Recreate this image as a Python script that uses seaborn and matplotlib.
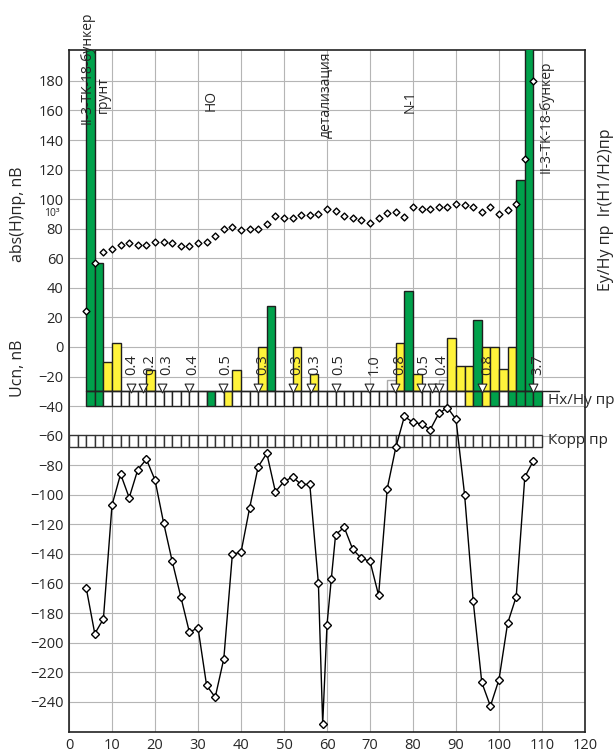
import numpy as np
import pandas as pd
import seaborn as sns
import matplotlib.pyplot as plt

# ---- data ----
# upper series: abs(H)пр (diamonds, no line)
abs_x = [4, 6, 8, 10, 12, 14, 16, 18, 20, 22, 24, 26, 28, 30, 32, 34, 36, 38, 40, 42,
         44, 46, 48, 50, 52, 54, 56, 58, 60, 62, 64, 66, 68, 70, 72, 74, 76, 78, 80, 82,
         84, 86, 88, 90, 92, 94, 96, 98, 100, 102, 104, 106, 108]
abs_h = [24, 57, 64, 66, 69, 70, 69, 69, 71, 71, 70, 68.5, 68.5, 70, 71, 75, 80, 81, 79, 80,
         80, 83, 88.5, 87, 87, 89.5, 89.5, 90, 93.5, 92, 88.5, 87, 86, 84, 87, 90.5, 91, 88, 94.5, 93,
         93.5, 94.5, 95, 97, 96, 95, 91.5, 94.5, 90, 92.5, 96.5, 127, 180]

# lower series: Ucn
ucn_x = [4, 6, 8, 10, 12, 14, 16, 18, 20, 22, 24, 26, 28, 30, 32, 34, 36, 38, 40, 42,
         44, 46, 48, 50, 52, 54, 56, 58, 59, 60, 61, 62, 64, 66, 68, 70, 72, 74, 76, 78,
         80, 82, 84, 86, 88, 90, 92, 94, 96, 98, 100, 102, 104, 106, 108]
ucn = [-163, -194, -184, -107, -86, -102, -83, -76, -90, -119, -145, -169, -193, -190, -229, -237, -211, -140, -139, -109,
       -81, -72, -98, -91, -88, -93, -93, -160, -255, -188, -157, -127, -122, -137, -143, -145, -168, -96, -68, -47,
       -51, -52, -56, -45, -41, -49, -100, -172, -227, -243, -225, -187, -169, -88, -77]

# bars above the Hx/Hy strip (left edge, top value, kind)
bar_left = [4, 6, 8, 10, 18, 38, 44, 46, 52, 56, 74, 76, 78, 80, 86, 88, 90, 92, 94, 96, 98, 100, 102, 104, 106]
bar_top = [260, 57, -10, 3, -15.5, -15.5, 0, 28, 0, -18, -22.5, 3, 38, -18.5, -22.5, 6, -13, -13, 18, 0, 0, -15, 0, 113, 260]
bar_kind = ['g', 'g', 'y', 'y', 'y', 'y', 'y', 'g', 'y', 'y', 'w', 'y', 'g', 'y', 'w', 'y', 'y', 'y', 'g', 'y', 'y', 'y', 'y', 'g', 'g']

# Hx/Hy strip cells
hx_left = list(range(4, 110, 2))
hx_kind = ['w'] * len(hx_left)
for i, k in zip([0, 1, 14, 16, 44, 45, 46, 47, 49, 50, 51, 52], ['g', 'g', 'g', 'y', 'y', 'g', 'y', 'g', 'g', 'g', 'g', 'g']):
    hx_kind[i] = k

# Korr strip cells
korr_left = list(range(0, 110, 2))

# triangles with labels
tri_x = [14.4, 17.3, 21.7, 27.9, 35.7, 43.9, 52, 56.2, 62, 69.8, 75.8, 81.8, 84.5, 86, 96, 108]
lbl_x = [14.6, 18.8, 22.7, 28.8, 36.4, 45, 53, 57.2, 62.8, 71, 77, 82.6, 86.7, 97.3, 109]
lbl_txt = ['0.4', '0.2', '0.3', '0.4', '0.5', '0.3', '0.3', '0.3', '0.5', '1.0', '0.8', '0.5', '0.4', '0.8', '3.7']

# notes at the top
note_x = [4.2, 7.9, 33, 59.8, 79.3, 111]
note_y = [227, 183, 174, 200, 174, 194]
note_txt = ['II-3-TK-18-бункер', 'грунт', 'НО', 'детализация', 'N-1', 'II-3-TK-18-бункер']

colors = {'g': '#00a14b', 'y': '#fff33b', 'w': 'white'}

sns.set_style("whitegrid", {'grid.color': '#b5b5b5', 'axes.edgecolor': '#222222'})
plt.rcParams['font.family'] = ['Open Sans', 'DejaVu Sans']

fig, ax = plt.subplots(figsize=(6.16, 7.55), dpi=100)
fig.subplots_adjust(left=69 / 616, right=585 / 616, top=1 - 50 / 755, bottom=1 - 732 / 755)

# bars
ax.bar(bar_left, np.array(bar_top) + 30, bottom=-30, width=2, align='edge',
       color=[colors[k] for k in bar_kind],
       edgecolor=['#aaaaaa' if k == 'w' else '#1e1e1e' for k in bar_kind], linewidth=1, zorder=3)

# strips
ax.bar(hx_left, 10, bottom=-40, width=2, align='edge', color=[colors[k] for k in hx_kind],
       edgecolor='#222222', linewidth=1, zorder=3)
ax.plot([4, 114], [-30, -30], color='#222222', lw=1, zorder=4)
ax.bar(korr_left, 8.5, bottom=-68, width=2, align='edge', color='white',
       edgecolor='#333333', linewidth=1, zorder=3)
ax.text(111.4, -36, 'Hx/Hy пр', fontsize=11, va='center', ha='left', clip_on=False)
ax.text(111.4, -63.5, 'Корр пр', fontsize=11, va='center', ha='left', clip_on=False)

# triangles
sns.scatterplot(x=tri_x, y=[-27.5] * len(tri_x), marker='v', s=40, color='white',
                edgecolor='#222222', linewidth=0.8, ax=ax, zorder=5)
for x, t in zip(lbl_x, lbl_txt):
    ax.text(x, -19, t, rotation=90, fontsize=10.5, ha='center', va='bottom', zorder=5)

# upper series
sns.scatterplot(x=abs_x, y=abs_h, marker='D', s=12, color='white', edgecolor='black',
                linewidth=1, ax=ax, zorder=6)

# lower series
df = pd.DataFrame({'x': ucn_x, 'u': ucn})
sns.lineplot(data=df, x='x', y='u', color='black', lw=1, marker='D', markersize=4,
             markerfacecolor='white', markeredgecolor='black', markeredgewidth=1,
             sort=False, ax=ax, zorder=6)

# notes
for x, y, t in zip(note_x, note_y, note_txt):
    ax.text(x, y, t, rotation=90, fontsize=10, ha='center', va='top', clip_on=False, zorder=7)

ax.set_xlim(0, 120)
ax.set_ylim(-260.5, 200.9)
ax.set_xticks(range(0, 121, 10))
ax.set_yticks(range(-240, 181, 20))
ax.tick_params(labelsize=10.5, length=0, pad=4)
ax.set_xlabel('')
ax.set_ylabel('')
for s in ax.spines.values():
    s.set_linewidth(1.2)
    s.set_color('#222222')

fig.text(18 / 616, 1 - 214 / 755, 'abs(H)пр, nB', rotation=90, fontsize=11.5, ha='center', va='center')
fig.text(18 / 616, 1 - 368 / 755, 'Ucn, nB', rotation=90, fontsize=11.5, ha='center', va='center')
fig.text(52 / 616, 1 - 213 / 755, '10³', fontsize=7.5, ha='center', va='center')
fig.text(606 / 616, 1 - 210 / 755, 'Ey/Hy пр  Ir(H1/H2)пр', rotation=90, fontsize=11.5, ha='center', va='center')

fig.savefig('out.png', dpi=100)
